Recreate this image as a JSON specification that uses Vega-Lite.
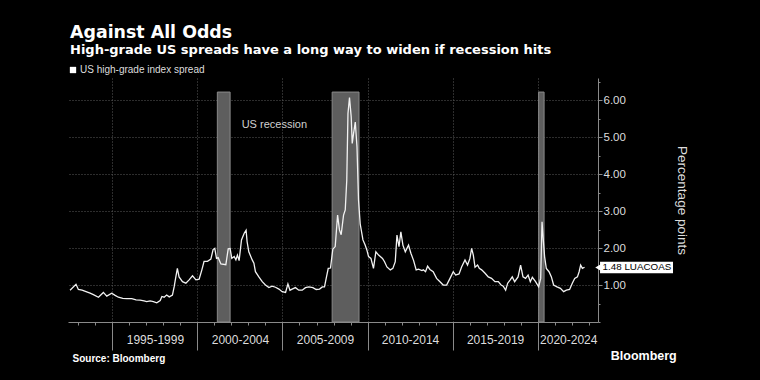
{
  "$schema": "https://vega.github.io/schema/vega-lite/v6.json",
  "background": "#000000",
  "autosize": "none",
  "width": 530,
  "height": 244,
  "padding": {"left": 68, "top": 78, "right": 162, "bottom": 58},
  "title": {
    "text": "Against All Odds",
    "subtitle": "High-grade US spreads have a long way to widen if recession hits",
    "anchor": "start",
    "frame": "group",
    "dx": 2,
    "offset": 8,
    "color": "#ffffff",
    "subtitleColor": "#ffffff",
    "font": "DejaVu Sans",
    "subtitleFont": "DejaVu Sans",
    "fontSize": 17.4,
    "fontWeight": "bold",
    "subtitleFontSize": 13,
    "subtitleFontWeight": "bold",
    "subtitlePadding": 3
  },
  "datasets": {
    "spread": [
      {"t": 1992.51, "v": 0.86}, {"t": 1992.86, "v": 1.02}, {"t": 1993.0, "v": 0.88}, {"t": 1993.22, "v": 0.86},
      {"t": 1993.45, "v": 0.82}, {"t": 1993.69, "v": 0.78}, {"t": 1993.88, "v": 0.74}, {"t": 1994.18, "v": 0.67},
      {"t": 1994.47, "v": 0.80}, {"t": 1994.67, "v": 0.70}, {"t": 1994.96, "v": 0.78}, {"t": 1995.16, "v": 0.72},
      {"t": 1995.35, "v": 0.67}, {"t": 1995.61, "v": 0.64}, {"t": 1995.85, "v": 0.63}, {"t": 1996.14, "v": 0.63},
      {"t": 1996.39, "v": 0.60}, {"t": 1996.63, "v": 0.59}, {"t": 1996.86, "v": 0.57}, {"t": 1997.02, "v": 0.55},
      {"t": 1997.22, "v": 0.57}, {"t": 1997.41, "v": 0.55}, {"t": 1997.61, "v": 0.52}, {"t": 1997.81, "v": 0.58},
      {"t": 1997.91, "v": 0.69}, {"t": 1998.04, "v": 0.67}, {"t": 1998.19, "v": 0.73}, {"t": 1998.34, "v": 0.68},
      {"t": 1998.53, "v": 0.73}, {"t": 1998.63, "v": 0.95}, {"t": 1998.73, "v": 1.22}, {"t": 1998.82, "v": 1.45},
      {"t": 1998.92, "v": 1.22}, {"t": 1999.12, "v": 1.09}, {"t": 1999.32, "v": 1.05}, {"t": 1999.51, "v": 1.14},
      {"t": 1999.71, "v": 1.25}, {"t": 1999.91, "v": 1.14}, {"t": 2000.1, "v": 1.16}, {"t": 2000.26, "v": 1.41},
      {"t": 2000.39, "v": 1.64}, {"t": 2000.59, "v": 1.64}, {"t": 2000.79, "v": 1.70}, {"t": 2000.92, "v": 1.96},
      {"t": 2001.02, "v": 1.99}, {"t": 2001.12, "v": 1.72}, {"t": 2001.22, "v": 1.74}, {"t": 2001.38, "v": 1.57},
      {"t": 2001.67, "v": 1.55}, {"t": 2001.81, "v": 1.98}, {"t": 2001.92, "v": 1.99}, {"t": 2002.02, "v": 1.72},
      {"t": 2002.16, "v": 1.77}, {"t": 2002.26, "v": 1.68}, {"t": 2002.35, "v": 1.81}, {"t": 2002.45, "v": 1.66},
      {"t": 2002.59, "v": 2.22}, {"t": 2002.75, "v": 2.40}, {"t": 2002.86, "v": 2.48}, {"t": 2002.92, "v": 2.17},
      {"t": 2003.02, "v": 1.90}, {"t": 2003.22, "v": 1.68}, {"t": 2003.32, "v": 1.59}, {"t": 2003.41, "v": 1.36},
      {"t": 2003.61, "v": 1.22}, {"t": 2003.81, "v": 1.09}, {"t": 2004.0, "v": 1.00}, {"t": 2004.2, "v": 0.93},
      {"t": 2004.39, "v": 0.97}, {"t": 2004.59, "v": 0.94}, {"t": 2004.79, "v": 0.89}, {"t": 2004.98, "v": 0.82},
      {"t": 2005.18, "v": 0.80}, {"t": 2005.32, "v": 1.03}, {"t": 2005.44, "v": 0.86}, {"t": 2005.57, "v": 0.89},
      {"t": 2005.76, "v": 0.93}, {"t": 2005.96, "v": 0.86}, {"t": 2006.16, "v": 0.86}, {"t": 2006.35, "v": 0.93},
      {"t": 2006.55, "v": 0.95}, {"t": 2006.79, "v": 0.93}, {"t": 2006.98, "v": 0.88}, {"t": 2007.18, "v": 0.89},
      {"t": 2007.34, "v": 0.95}, {"t": 2007.47, "v": 0.95}, {"t": 2007.57, "v": 1.18}, {"t": 2007.69, "v": 1.45},
      {"t": 2007.82, "v": 1.46}, {"t": 2007.96, "v": 1.97}, {"t": 2008.1, "v": 2.04}, {"t": 2008.24, "v": 2.89},
      {"t": 2008.35, "v": 2.49}, {"t": 2008.45, "v": 2.36}, {"t": 2008.59, "v": 2.89}, {"t": 2008.69, "v": 3.03},
      {"t": 2008.78, "v": 3.84}, {"t": 2008.85, "v": 5.64}, {"t": 2008.94, "v": 6.07}, {"t": 2009.04, "v": 5.55},
      {"t": 2009.1, "v": 4.83}, {"t": 2009.18, "v": 5.10}, {"t": 2009.28, "v": 5.41}, {"t": 2009.38, "v": 4.74},
      {"t": 2009.47, "v": 3.30}, {"t": 2009.57, "v": 2.65}, {"t": 2009.73, "v": 2.22}, {"t": 2009.86, "v": 2.08},
      {"t": 2009.96, "v": 1.95}, {"t": 2010.06, "v": 1.77}, {"t": 2010.2, "v": 1.72}, {"t": 2010.35, "v": 1.45},
      {"t": 2010.49, "v": 1.90}, {"t": 2010.65, "v": 1.81}, {"t": 2010.75, "v": 1.77}, {"t": 2010.88, "v": 1.72},
      {"t": 2011.0, "v": 1.63}, {"t": 2011.14, "v": 1.49}, {"t": 2011.34, "v": 1.41}, {"t": 2011.49, "v": 1.45},
      {"t": 2011.63, "v": 1.63}, {"t": 2011.73, "v": 2.35}, {"t": 2011.85, "v": 2.04}, {"t": 2011.96, "v": 2.44},
      {"t": 2012.08, "v": 2.08}, {"t": 2012.22, "v": 1.90}, {"t": 2012.41, "v": 2.08}, {"t": 2012.55, "v": 1.86},
      {"t": 2012.71, "v": 1.66}, {"t": 2012.86, "v": 1.41}, {"t": 2013.0, "v": 1.43}, {"t": 2013.2, "v": 1.39},
      {"t": 2013.28, "v": 1.41}, {"t": 2013.41, "v": 1.36}, {"t": 2013.53, "v": 1.51}, {"t": 2013.67, "v": 1.42},
      {"t": 2013.86, "v": 1.36}, {"t": 2014.06, "v": 1.18}, {"t": 2014.26, "v": 1.09}, {"t": 2014.45, "v": 1.00},
      {"t": 2014.65, "v": 1.00}, {"t": 2014.85, "v": 1.18}, {"t": 2015.04, "v": 1.36}, {"t": 2015.18, "v": 1.27},
      {"t": 2015.38, "v": 1.30}, {"t": 2015.53, "v": 1.49}, {"t": 2015.73, "v": 1.68}, {"t": 2015.88, "v": 1.54},
      {"t": 2016.02, "v": 1.72}, {"t": 2016.12, "v": 1.99}, {"t": 2016.22, "v": 1.81}, {"t": 2016.32, "v": 1.48},
      {"t": 2016.47, "v": 1.54}, {"t": 2016.57, "v": 1.45}, {"t": 2016.71, "v": 1.41}, {"t": 2016.91, "v": 1.32},
      {"t": 2017.1, "v": 1.22}, {"t": 2017.29, "v": 1.18}, {"t": 2017.49, "v": 1.09}, {"t": 2017.69, "v": 1.09},
      {"t": 2017.85, "v": 1.00}, {"t": 2017.98, "v": 0.97}, {"t": 2018.12, "v": 0.86}, {"t": 2018.24, "v": 1.05},
      {"t": 2018.39, "v": 1.14}, {"t": 2018.51, "v": 1.22}, {"t": 2018.65, "v": 1.09}, {"t": 2018.85, "v": 1.22},
      {"t": 2019.0, "v": 1.54}, {"t": 2019.14, "v": 1.22}, {"t": 2019.29, "v": 1.18}, {"t": 2019.44, "v": 1.27},
      {"t": 2019.57, "v": 1.09}, {"t": 2019.69, "v": 1.21}, {"t": 2019.88, "v": 1.09}, {"t": 2020.06, "v": 0.95},
      {"t": 2020.18, "v": 1.18}, {"t": 2020.26, "v": 2.71}, {"t": 2020.32, "v": 2.31}, {"t": 2020.41, "v": 1.77},
      {"t": 2020.51, "v": 1.45}, {"t": 2020.67, "v": 1.36}, {"t": 2020.81, "v": 1.22}, {"t": 2020.94, "v": 1.00},
      {"t": 2021.14, "v": 0.95}, {"t": 2021.34, "v": 0.91}, {"t": 2021.53, "v": 0.82}, {"t": 2021.69, "v": 0.86},
      {"t": 2021.88, "v": 0.88}, {"t": 2022.04, "v": 1.05}, {"t": 2022.18, "v": 1.18}, {"t": 2022.34, "v": 1.22},
      {"t": 2022.44, "v": 1.36}, {"t": 2022.53, "v": 1.54}, {"t": 2022.63, "v": 1.45}, {"t": 2022.76, "v": 1.48}
    ],
    "recessions": [
      {"start": 2001.17, "end": 2001.92},
      {"start": 2007.92, "end": 2009.5},
      {"start": 2020.06, "end": 2020.38}
    ],
    "one": [{}]
  },
  "layer": [
    {
      "data": {"name": "recessions"},
      "mark": {"type": "rect", "fill": "#5e5e5e", "stroke": "#8a8a8a", "strokeWidth": 1},
      "encoding": {
        "x": {
          "field": "start", "type": "quantitative",
          "scale": {"domain": [1992.39, 2023.55], "nice": false, "zero": false},
          "axis": {
            "orient": "bottom", "values": [1993, 1994, 1995, 1996, 1997, 1998, 1999, 2000, 2001, 2002, 2003, 2004, 2005, 2006, 2007, 2008, 2009, 2010, 2011, 2012, 2013, 2014, 2015, 2016, 2017, 2018, 2019, 2020, 2021, 2022, 2023],
            "labels": false, "grid": false, "title": null,
            "domain": true, "domainColor": "#8a8a8a", "tickColor": "#8a8a8a", "tickSize": 3
          }
        },
        "x2": {"field": "end"},
        "y": {
          "datum": 0, "type": "quantitative",
          "scale": {"domain": [0, 6.6], "nice": false},
          "axis": {
            "orient": "right", "values": [1, 2, 3, 4, 5, 6], "format": ".2f",
            "grid": true, "gridColor": "#5a5a5a", "gridDash": [1, 2], "gridWidth": 1,
            "domain": true, "domainColor": "#8a8a8a", "tickColor": "#8a8a8a", "tickSize": 4,
            "labelColor": "#dddddd", "labelFontSize": 11.5, "labelFont": "Liberation Sans", "labelPadding": 1,
            "title": "Percentage points", "titleColor": "#dddddd", "titleFontSize": 13.5,
            "titleFont": "Liberation Sans", "titleFontWeight": "normal", "titlePadding": 49
          }
        },
        "y2": {"datum": 6.22}
      }
    },
    {
      "data": {"name": "spread"},
      "mark": {"type": "line", "strokeWidth": 1.3, "interpolate": "linear"},
      "encoding": {
        "x": {
          "field": "t", "type": "quantitative",
          "axis": {
            "orient": "bottom", "values": [1995, 2000, 2005, 2010, 2015, 2020],
            "labels": false, "title": null, "domain": false,
            "grid": true, "gridColor": "#5a5a5a", "gridDash": [1, 2], "gridWidth": 1,
            "tickColor": "#8a8a8a", "tickSize": 28
          }
        },
        "y": {
          "field": "v", "type": "quantitative",
          "axis": {
            "orient": "right", "values": [0, 0.5, 1.5, 2.5, 3.5, 4.5, 5.5, 6.5],
            "labels": false, "grid": false, "domain": false, "title": null,
            "tickColor": "#8a8a8a", "tickSize": 2
          }
        },
        "color": {
          "datum": "US high-grade index spread", "type": "nominal",
          "scale": {"range": ["#f2f2f2"]},
          "legend": {
            "orient": "top", "direction": "horizontal", "title": null,
            "symbolType": "square", "symbolFillColor": "#ffffff", "symbolStrokeColor": "#ffffff",
            "symbolSize": 40, "symbolStrokeWidth": 0,
            "labelColor": "#dddddd", "labelFontSize": 10, "labelFont": "Liberation Sans",
            "labelOffset": 2, "offset": 3, "padding": 0
          }
        }
      }
    },
    {
      "data": {"name": "one"},
      "mark": {"type": "text", "align": "left", "baseline": "middle", "color": "#d0d0d0", "fontSize": 11, "font": "Liberation Sans"},
      "encoding": {
        "x": {
          "datum": 2002.6, "type": "quantitative",
          "axis": {
            "orient": "bottom", "values": [1997.5, 2002.5, 2007.5, 2012.5, 2017.5, 2021.8],
            "labelExpr": "(floor(datum.value / 5) * 5) + '-' + (floor(datum.value / 5) * 5 + 4)",
            "ticks": false, "domain": false, "grid": false,
            "labelColor": "#dddddd", "labelFontSize": 12, "labelFont": "Liberation Sans", "labelPadding": 12,
            "title": "Source: Bloomberg", "titleAnchor": "start", "titleAlign": "left",
            "titleColor": "#ffffff", "titleFontSize": 10, "titleFont": "Liberation Sans",
            "titleFontWeight": "bold", "titlePadding": 8, "titleX": 4
          }
        },
        "y": {"datum": 5.32, "type": "quantitative", "axis": null},
        "text": {"value": "US recession"}
      }
    },
    {
      "data": {"name": "one"},
      "mark": {"type": "rect", "fill": "#ffffff", "clip": false},
      "encoding": {
        "x": {"datum": 2023.67, "type": "quantitative", "axis": null},
        "x2": {"datum": 2027.96},
        "y": {"datum": 1.32, "type": "quantitative", "axis": null},
        "y2": {"datum": 1.63}
      }
    },
    {
      "data": {"name": "one"},
      "mark": {"type": "point", "shape": "triangle-left", "filled": true, "color": "#ffffff", "size": 40, "opacity": 1, "clip": false},
      "encoding": {
        "x": {"datum": 2023.55, "type": "quantitative", "axis": null},
        "y": {"datum": 1.475, "type": "quantitative", "axis": null}
      }
    },
    {
      "data": {"name": "one"},
      "mark": {"type": "text", "align": "left", "baseline": "middle", "color": "#000000", "fontSize": 9.8, "font": "Liberation Sans", "clip": false},
      "encoding": {
        "x": {"datum": 2023.82, "type": "quantitative", "axis": null},
        "y": {"datum": 1.475, "type": "quantitative", "axis": null},
        "text": {"value": "1.48 LUACOAS"}
      }
    },
    {
      "data": {"name": "one"},
      "mark": {"type": "text", "align": "left", "baseline": "middle", "color": "#ffffff", "fontSize": 12.5, "fontWeight": "bold", "font": "Liberation Sans", "clip": false},
      "encoding": {
        "x": {"datum": 2024.3, "type": "quantitative", "axis": null},
        "y": {"datum": -0.92, "type": "quantitative", "axis": null},
        "text": {"value": "Bloomberg"}
      }
    }
  ],
  "resolve": {"axis": {"x": "independent", "y": "independent"}},
  "config": {
    "view": {"stroke": null},
    "font": "Liberation Sans"
  }
}
